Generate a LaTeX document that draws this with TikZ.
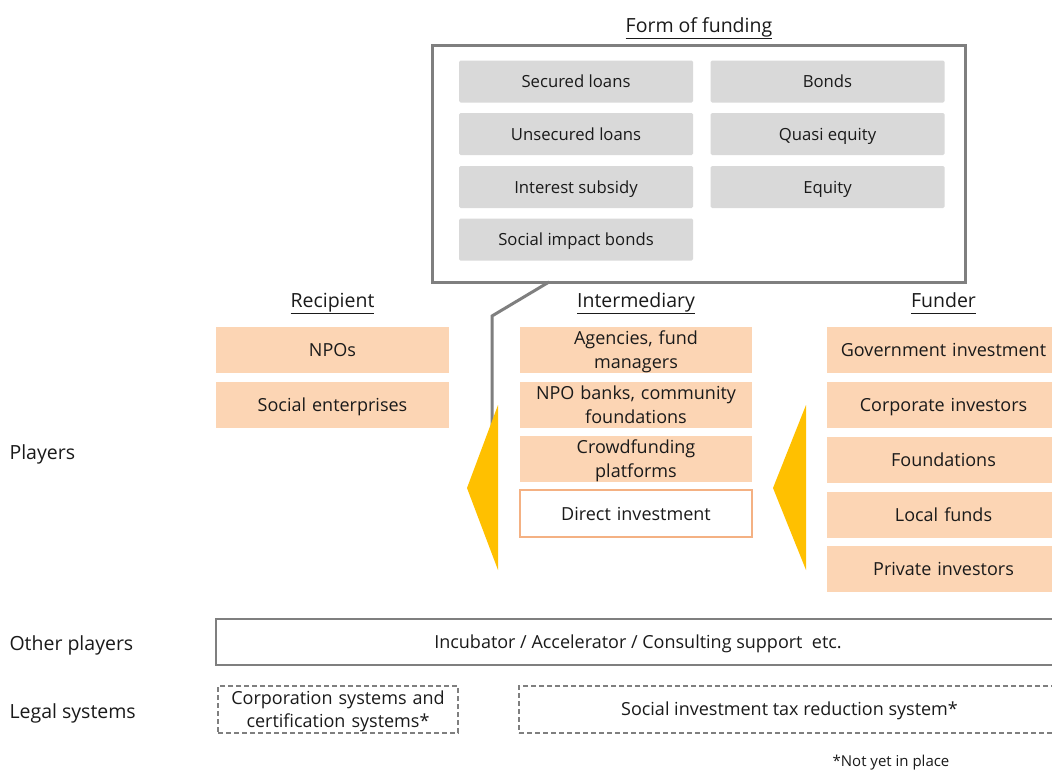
\documentclass[tikz,border=0pt]{standalone}
\usepackage{fontspec}
\setmainfont{Open Sans}
\usepackage{tikz}

\definecolor{peach}{HTML}{FCD5B4}
\definecolor{peachline}{HTML}{F4B183}
\definecolor{formgray}{HTML}{D9D9D9}
\definecolor{frame}{HTML}{7F7F7F}
\definecolor{gold}{HTML}{FFC000}
\definecolor{ink}{HTML}{1A1A1A}

\newcommand{\headline}[1]{\underline{#1\vphantom{gp}}}

\tikzset{
  every node/.style={text=ink, font=\fontsize{18}{24}\selectfont},
  player/.style={fill=peach, minimum width=233, minimum height=46, inner sep=1pt,
    text width=228, align=center, text height=13, text depth=0},
  twoline/.style={text depth=24},
  form/.style={fill=formgray, rounded corners=1.5, minimum width=234, minimum height=42,
    inner sep=0pt, text height=12, text depth=0, font=\fontsize{16.7}{20}\selectfont},
  legal/.style={draw=frame, dash pattern=on 5 off 3, line width=1.5, minimum height=47,
    inner sep=1pt, align=center, text height=12.5, text depth=0,
    font=\fontsize{18}{23}\selectfont},
  header/.style={anchor=base, font=\fontsize{19.5}{23}\selectfont},
  rowlabel/.style={anchor=base west, font=\fontsize{19.5}{23}\selectfont},
}

\begin{document}
\begin{tikzpicture}[x=1pt, y=-1pt]
    \clip (0,0) rectangle (1052,769);
    \fill[white] (0,0) rectangle (1052,769);

    % form of funding
    \node[header] (formtitle) at (699,32) {\headline{Form of funding}};
    \node[draw=frame, line width=3, minimum width=533, minimum height=237, inner sep=0pt]
        (funding) at (698.5,163.5) {};
    \node[form] (secured) at (576,81.5) {Secured loans};
    \node[form] (unsecured) at (576,134) {Unsecured loans};
    \node[form] (subsidy) at (576,187) {Interest subsidy};
    \node[form] (sib) at (576,239.5) {Social impact bonds};
    \node[form] (bonds) at (827.5,81.5) {Bonds};
    \node[form] (quasi) at (827.5,134) {Quasi equity};
    \node[form] (equity) at (827.5,187) {Equity};

    % callout from the form box down to the intermediary
    \coordinate (calloutstart) at (549,282);
    \coordinate (calloutbend) at (492,316);
    \coordinate (calloutend) at (492,450);
    \draw[frame, line width=3] (calloutstart) -- (calloutbend) -- (calloutend);

    % columns
    \node[header] (recipient) at (332.5,307) {\headline{Recipient}};
    \node[header] (intermediary) at (636,307) {\headline{Intermediary}};
    \node[header] (funder) at (943.5,307) {\headline{Funder}};

    \node[player] (npos) at (332.5,350) {NPOs};
    \node[player] (socent) at (332.5,405) {Social enterprises};

    \node[player, twoline, minimum width=232] (agencies) at (636,350) {Agencies, fund\\managers};
    \node[player, twoline, minimum width=232] (npobanks) at (636,405) {NPO banks, community\\foundations};
    \node[player, twoline, minimum width=232] (crowd) at (636,459) {Crowdfunding\\platforms};
    \node[player, fill=white, draw=peachline, line width=2, minimum width=232, minimum height=47]
        (direct) at (636,513.5) {Direct investment};

    \node[player] (government) at (943.5,350) {Government investment};
    \node[player] (corporate) at (943.5,405) {Corporate investors};
    \node[player] (foundations) at (943.5,460) {Foundations};
    \node[player] (localfunds) at (943.5,514.5) {Local funds};
    \node[player] (private) at (943.5,569) {Private investors};

    % flow arrows
    \fill[gold] (498,405) -- (467,488) -- (498,570) -- cycle;
    \fill[gold] (806,405) -- (773,488) -- (806,570) -- cycle;

    % row labels
    \node[rowlabel] (players) at (6,459) {Players};
    \node[rowlabel] (others) at (6,650) {Other players};
    \node[rowlabel] (legalsys) at (6,718) {Legal systems};

    \node[draw=frame, line width=2, minimum width=844, minimum height=46, inner sep=0pt,
        text height=13, text depth=0] (incubator) at (638,642)
        {Incubator / Accelerator / Consulting support\ \ etc.};
    \node[legal, text depth=23, minimum width=240, text width=234] (corpsys) at (338,709.5)
        {Corporation systems and\\certification systems*};
    \node[legal, minimum width=541] (taxsys) at (789.5,709.5)
        {Social investment tax reduction system*};

    \node[font=\fontsize{15}{18}\selectfont, anchor=base] (note) at (891,766) {*Not yet in place};
\end{tikzpicture}
\end{document}
